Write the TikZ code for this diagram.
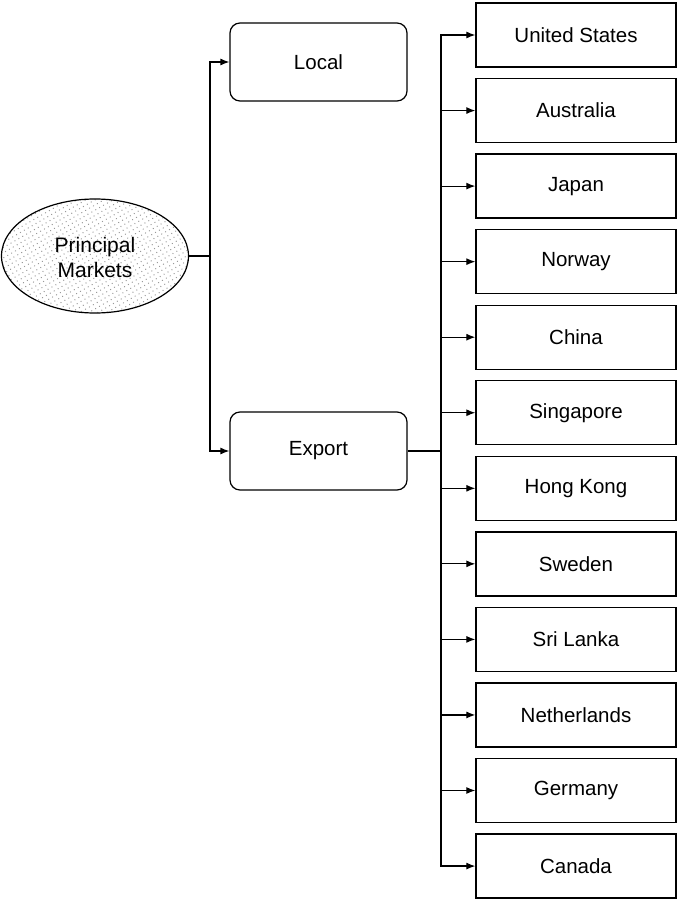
\documentclass[tikz,border=0pt]{standalone}
\usepackage{fontspec}
\setmainfont{Liberation Sans}
\usetikzlibrary{arrows.meta,patterns.meta,shapes.geometric}
\begin{document}
\begin{tikzpicture}[x=1pt,y=-1pt,
  every node/.style={font=\fontsize{20.5}{24}\selectfont, text=black},
  rbox/.style={draw, line width=1.2pt, rounded corners=10pt, minimum width=177pt, minimum height=78pt, inner sep=0pt},
  cbox/.style={draw, line width=1.3pt, minimum width=200pt, minimum height=64pt, inner sep=0pt},
  arr/.style={line width=1.2pt, -{Latex[length=9pt,width=7pt]}},
  ln/.style={line width=1.2pt}]
\useasboundingbox (0,0) rectangle (677,899);
\node[ellipse, draw, line width=1.2pt, pattern={Dots[radius=0.7pt, distance=4.5pt, angle=30]}, pattern color=gray!80,
  minimum width=187pt, minimum height=114pt, inner sep=0pt] (pm) at (95,256) {};
\node[align=center, font=\fontsize{21}{25}\selectfont] (pmt) at (95,257) {Principal\\Markets};
\node[rbox] (local) at (318.5,62) {Local};
\node[rbox] (export) at (318.5,451) {Export};
\coordinate (j1) at (210,256);
\draw[ln] (pm.east) -- (j1);
\draw[arr] (j1) |- (local.west);
\draw[arr] (j1) |- (export.west);
\coordinate (j2) at (441,451);
\draw[ln] (export.east) -- (j2);
\foreach \n/\t [count=\i from 0] in {us/United States, au/Australia, jp/Japan, no/Norway, cn/China, sg/Singapore, hk/Hong Kong, se/Sweden, lk/Sri Lanka, nl/Netherlands, de/Germany, ca/Canada} {
  \node[cbox] (\n) at (576,35+75.55*\i) {\t};
  \draw[arr] (j2) |- (\n.west);
}
\end{tikzpicture}
\end{document}
